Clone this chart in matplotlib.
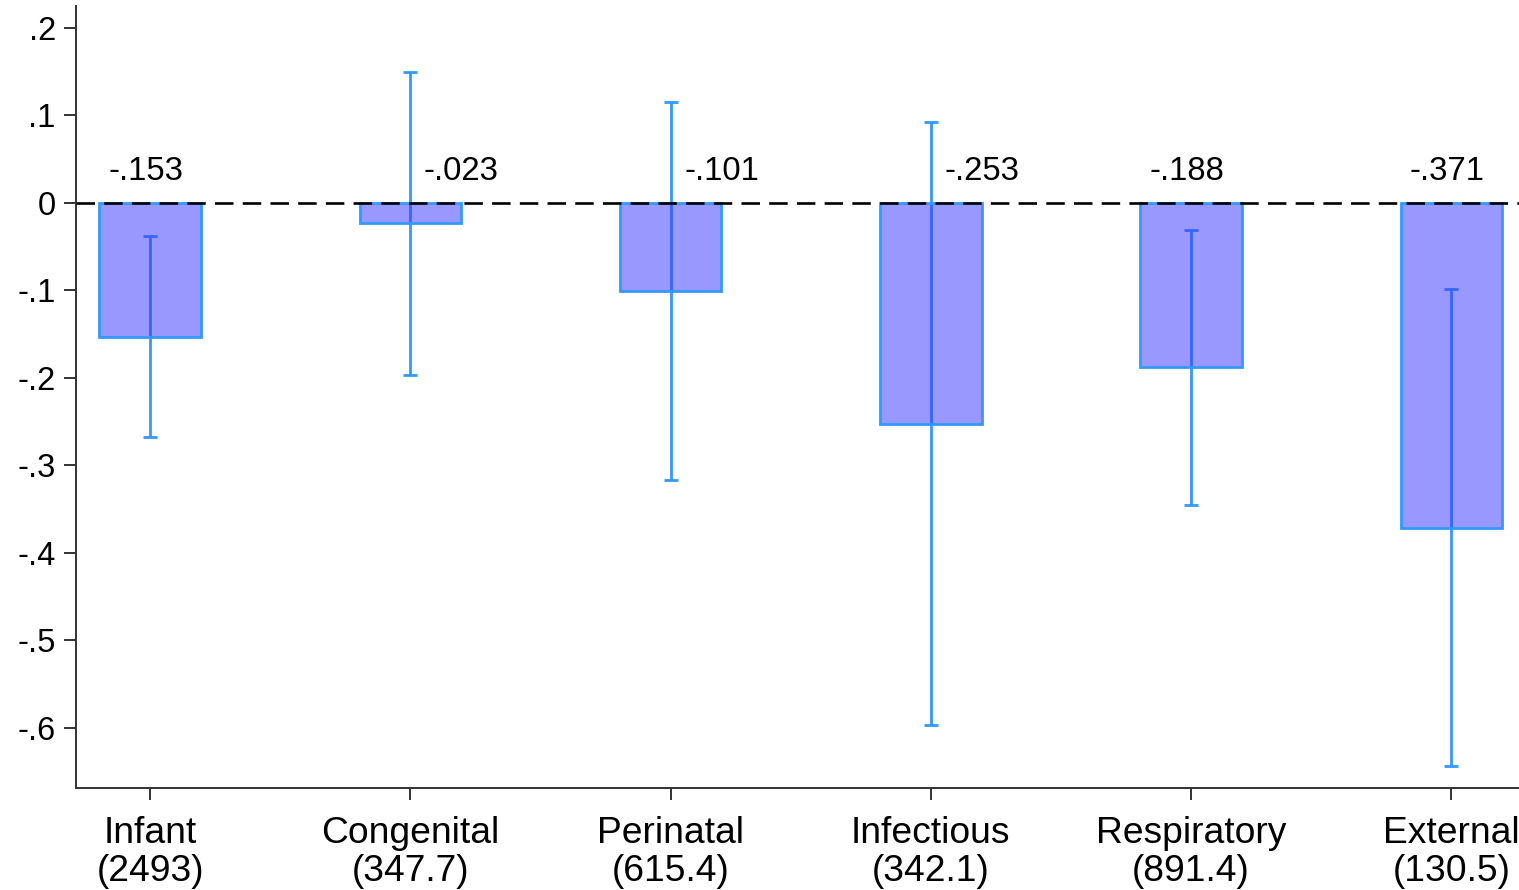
import matplotlib
matplotlib.use("Agg")
import matplotlib.pyplot as plt
import numpy as np

categories = ["Infant", "Congenital", "Perinatal", "Infectious", "Respiratory", "External"]
base_rates = ["2493", "347.7", "615.4", "342.1", "891.4", "130.5"]
estimates = [-0.153, -0.023, -0.101, -0.253, -0.188, -0.371]
ci_low = [-0.268, -0.197, -0.317, -0.597, -0.345, -0.643]
ci_high = [-0.038, 0.150, 0.115, 0.092, -0.031, -0.098]
value_labels = ["-.153", "-.023", "-.101", "-.253", "-.188", "-.371"]
yticks = [0.2, 0.1, 0.0, -0.1, -0.2, -0.3, -0.4, -0.5, -0.6]
ytick_labels = [".2", ".1", "0", "-.1", "-.2", "-.3", "-.4", "-.5", "-.6"]

plt.rcParams['font.family'] = ['Liberation Sans', 'DejaVu Sans']

fig = plt.figure(figsize=(15.19, 8.90), dpi=100)
ax = fig.add_axes([76 / 1519, 1 - 788 / 890, 1 - 76 / 1519, (788 - 6) / 890])

x = np.arange(len(categories))
est = np.array(estimates)
lo = np.array(ci_low)
hi = np.array(ci_high)

line_blue = "#3399FF"
ax.errorbar(x, est, yerr=[est - lo, hi - est], fmt='none', ecolor=line_blue,
            elinewidth=2.0, capsize=5.0, capthick=2.0, zorder=2)
ax.bar(x, est, width=0.39, facecolor=(0.2, 0.2, 1.0, 0.5), edgecolor=line_blue,
       linewidth=2.0, zorder=3)
ax.axhline(0, color="black", linestyle=(0, (7, 3.5)), linewidth=1.9, zorder=4)

for xi, h, lab in zip(x, hi, value_labels):
    if h > 0:
        ax.text(xi + 0.196, 0.026, lab, ha='center', va='baseline', fontsize=23.7)
    else:
        ax.text(xi - 0.015, 0.026, lab, ha='center', va='baseline', fontsize=23.7)

ax.set_xlim(-0.2846, 5.26)
ax.set_ylim(-0.6686, 0.2251)
ax.set_yticks(yticks)
ax.set_yticklabels(ytick_labels, fontsize=23.5)
ax.set_xticks(x)
ax.set_xticklabels([f"{c}\n({b})" for c, b in zip(categories, base_rates)],
                   fontsize=26.8, linespacing=1.1)

for s in ["top", "right"]:
    ax.spines[s].set_visible(False)
for s in ["left", "bottom"]:
    ax.spines[s].set_color("#333333")
    ax.spines[s].set_linewidth(1.4)
ax.tick_params(axis='both', length=8.5, width=1.4, color="#333333")
ax.tick_params(axis='y', pad=6)
ax.tick_params(axis='x', pad=12)

fig.savefig("out.png", dpi=100)
